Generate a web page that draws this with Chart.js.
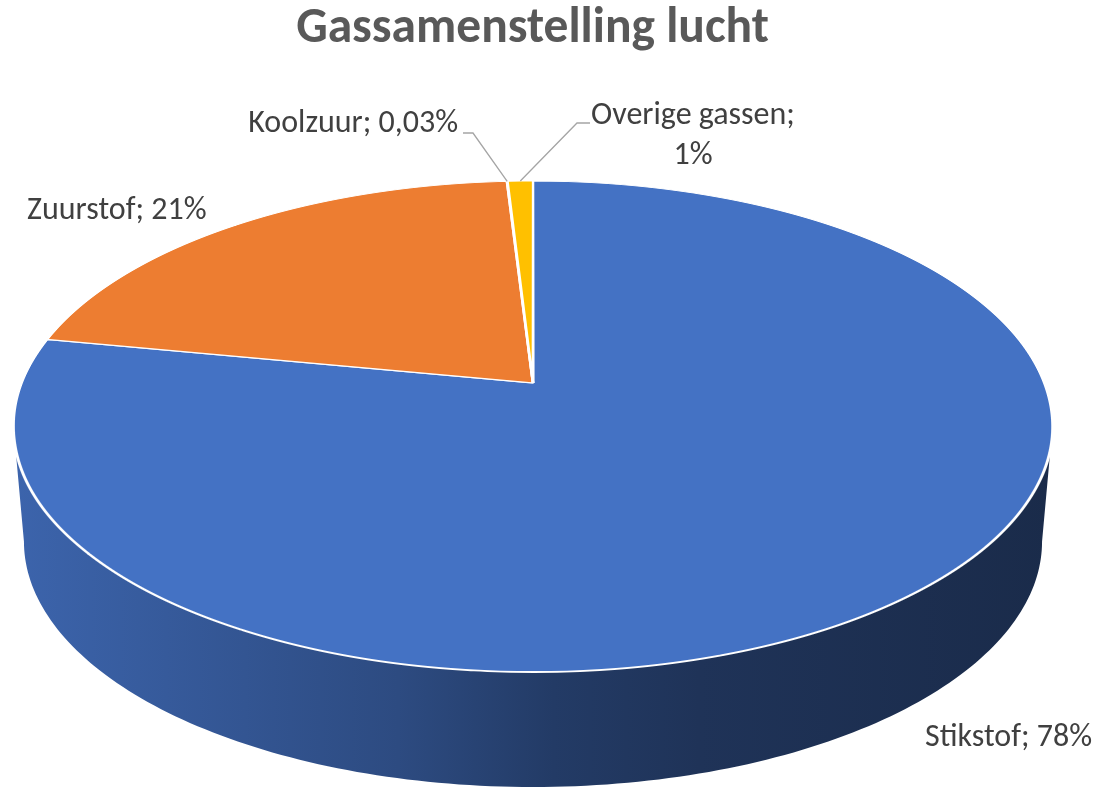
<!DOCTYPE html>
<html lang="nl">
<head>
    <meta charset="UTF-8">
    <title>Gassamenstelling lucht</title>
    <script src="https://cdn.jsdelivr.net/npm/chart.js"></script>
    <style>
        html, body {
            margin: 0;
            padding: 0;
            background: #ffffff;
        }
        canvas { display: block; }
    </style>
</head>
<body>
    <canvas id="luchtChart" width="1097" height="790"></canvas>

    <script>
        // Gegevens van de grafiek
        const gassen = ['Stikstof', 'Zuurstof', 'Koolzuur', 'Overige gassen'];
        const aandeel = [78, 21, 0.03, 0.93];
        const aandeelTekst = ['78%', '21%', '0,03%', '1%'];
        const kleuren = ['#4472C4', '#ED7D31', '#A5A5A5', '#FFC000'];

        const lettertype = "Carlito, Lato, 'Open Sans', sans-serif";

        // Perspectief van de 3D-taart (schermcoordinaten)
        const persp = {
            cx: 533,      // midden x
            y0: 383,      // midden van de bovenkant
            a: 511.3,     // halve breedte
            b: 237.8,     // halve hoogte
            q: 0.1772,    // perspectief-factor
            a2: 501,      // halve breedte onderrand
            y02: 498      // midden onderrand
        };

        // Punt op de rand van de bovenkant (hoek t)
        function rand(t, onder) {
            const v = Math.sin(t), u = Math.cos(t);
            const w = 1 - persp.q * v;
            const a = onder ? persp.a2 : persp.a;
            const y0 = onder ? persp.y02 : persp.y0;
            return [persp.cx + a * u / w, y0 + persp.b * v / w];
        }

        // Kleur donkerder maken (voor de zijkant van de taart)
        function schaduw(hex, f) {
            const n = parseInt(hex.slice(1), 16);
            const r = Math.round(((n >> 16) & 255) * f);
            const g = Math.round(((n >> 8) & 255) * f);
            const b = Math.round((n & 255) * f);
            return 'rgb(' + r + ',' + g + ',' + b + ')';
        }

        const wandStops = [[0, 0.88], [0.37, 0.66], [0.52, 0.52], [0.66, 0.45], [1, 0.38]];

        // Plugin: zijwand tekenen en taart in perspectief zetten (strook voor strook)
        const taart3d = {
            id: 'taart3d',
            beforeDatasetsDraw(chart) {
                const meta = chart.getDatasetMeta(0);
                if (!meta.data.length) return;
                const ctx = chart.ctx;
                const eerste = meta.data[0];
                const ax = eerste.x, ay = eerste.y, R = eerste.outerRadius;

                // zijwand
                const t0 = Math.asin(persp.q), t1 = Math.PI - t0;
                const links = rand(t1)[0], rechts = rand(t0)[0];
                meta.data.forEach((arc, i) => {
                    const s = Math.max(arc.startAngle, t0);
                    const e = Math.min(arc.endAngle, t1);
                    if (e <= s) return;
                    const grad = ctx.createLinearGradient(links, 0, rechts, 0);
                    wandStops.forEach(st => grad.addColorStop(st[0], schaduw(kleuren[i], st[1])));
                    const n = 160;
                    ctx.beginPath();
                    for (let k = 0; k <= n; k++) {
                        const p = rand(s + (e - s) * k / n, false);
                        if (k === 0) ctx.moveTo(p[0], p[1]); else ctx.lineTo(p[0], p[1]);
                    }
                    for (let k = n; k >= 0; k--) {
                        const p = rand(s + (e - s) * k / n, true);
                        ctx.lineTo(p[0], p[1]);
                    }
                    ctx.closePath();
                    ctx.fillStyle = grad;
                    ctx.fill();
                });

                // bovenkant: per pixelrij een eigen schaal
                const yBoven = Math.floor(persp.y0 - persp.b / (1 + persp.q)) - 3;
                const yOnder = Math.ceil(persp.y0 + persp.b / (1 - persp.q)) + 3;
                for (let Y = yBoven; Y < yOnder; Y++) {
                    const d = Y + 0.5 - persp.y0;
                    const v = d / (persp.b + persp.q * d);
                    const w = 1 - persp.q * v;
                    const sx = persp.a / (R * w);
                    const sy = persp.b / (R * w * w);
                    ctx.save();
                    ctx.beginPath();
                    ctx.rect(0, Y, chart.width, 1);
                    ctx.clip();
                    ctx.transform(sx, 0, 0, sy, persp.cx - sx * ax, (Y + 0.5) - sy * (ay + R * v));
                    meta.controller.draw();
                    ctx.restore();
                }
                return false;
            }
        };

        // Plaats van de gegevenslabels
        const labelPlaatsing = [
            { x: 925, y: [738], align: 'left' },
            { x: 27, y: [211], align: 'left' },
            { x: 458, y: [124], align: 'right', lijn: [463, 133, 473, 133] },
            { x: 693, y: [116, 155.5], align: 'center', lijn: [590, 123, 577, 123] }
        ];

        const labelPlugin = {
            id: 'labels',
            afterDraw(chart) {
                const meta = chart.getDatasetMeta(0);
                const ctx = chart.ctx;
                ctx.save();
                meta.data.forEach((arc, i) => {
                    const p = labelPlaatsing[i];
                    if (p.lijn) {
                        const eind = rand((arc.startAngle + arc.endAngle) / 2, false);
                        ctx.strokeStyle = '#A5A5A5';
                        ctx.lineWidth = 1.3;
                        ctx.beginPath();
                        ctx.moveTo(p.lijn[0], p.lijn[1]);
                        ctx.lineTo(p.lijn[2], p.lijn[3]);
                        ctx.lineTo(eind[0], eind[1]);
                        ctx.stroke();
                    }
                    ctx.fillStyle = '#404040';
                    ctx.font = '32px ' + lettertype;
                    ctx.textAlign = p.align;
                    ctx.textBaseline = 'middle';
                    const regels = p.y.length > 1
                        ? [gassen[i] + ';', aandeelTekst[i]]
                        : [gassen[i] + '; ' + aandeelTekst[i]];
                    regels.forEach((r, k) => ctx.fillText(r, p.x, p.y[k]));
                });
                ctx.restore();
            }
        };

        const ctx = document.getElementById('luchtChart').getContext('2d');
        const luchtChart = new Chart(ctx, {
            type: 'pie',
            data: {
                labels: gassen,
                datasets: [{
                    data: aandeel,
                    backgroundColor: kleuren,
                    borderColor: '#ffffff',
                    borderWidth: 1.3,
                    radius: 245.5,
                    clip: false
                }]
            },
            options: {
                responsive: false,
                animation: false,
                events: [],
                layout: {
                    padding: { left: 0, right: 32, top: 0, bottom: 118 }
                },
                plugins: {
                    legend: { display: false },
                    tooltip: { enabled: false },
                    title: {
                        display: true,
                        text: 'Gassamenstelling lucht',
                        color: '#595959',
                        font: { family: lettertype, size: 49.5, weight: 'bold', lineHeight: 1.2 },
                        padding: { top: 0, bottom: 121.6 }
                    }
                }
            },
            plugins: [taart3d, labelPlugin]
        });
    </script>
</body>
</html>
